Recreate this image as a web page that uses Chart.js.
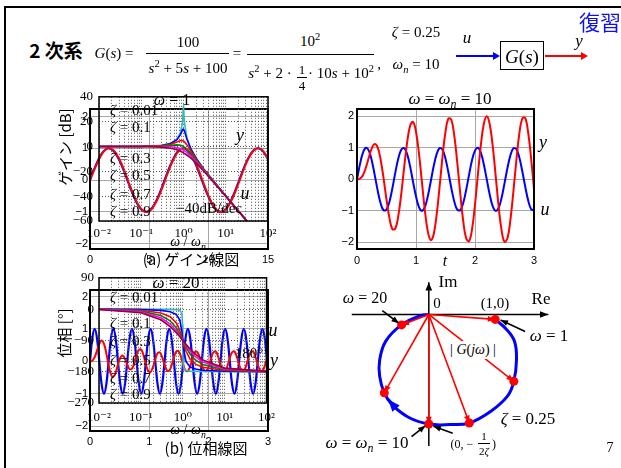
<!DOCTYPE html>
<html>
<head>
<meta charset="utf-8">
<script src="https://cdn.jsdelivr.net/npm/chart.js@4.4.1/dist/chart.umd.min.js"></script>
<style>
  body { margin: 0; background: #fff; }
  #page { position: relative; width: 621px; height: 468px; overflow: hidden; background: #fff; }
  #frame { position: absolute; left: 4px; top: 6px; width: 700px; height: 600px; border-left: 2px solid #000; border-top: 2px solid #000; }
  canvas { position: absolute; }
  .t { position: absolute; transform: translate(-50%, -50%); white-space: nowrap; font-family: 'Liberation Serif', 'DejaVu Serif', serif; font-size: 15px; line-height: 1; color: #000; }
  .l { transform: translate(0, -50%); }
  .j { font-family: 'Noto Sans CJK JP', sans-serif; }
  .rot { transform: translate(-50%, -50%) rotate(-90deg); }
  .bar { position: absolute; height: 1px; background: #000; }
  sup, sub { font-size: 70%; line-height: 0; }
</style>
</head>
<body>
<div id="page">
  <div id="frame"></div>
  <canvas id="tl"></canvas>
  <canvas id="gain"></canvas>
  <canvas id="tr"></canvas>
  <canvas id="tph"></canvas>
  <canvas id="phase"></canvas>
  <canvas id="nyq"></canvas>

  <!-- header -->
  <div class="t j" style="left:56px;top:49px;font-size:19px;font-weight:700">2 次系</div>
  <div class="t" style="left:114px;top:53px"><i>G</i>(<i>s</i>) =</div>
  <div class="t" style="left:188px;top:42px">100</div>
  <div class="bar" style="left:146px;top:53px;width:83px"></div>
  <div class="t" style="left:188px;top:68px"><i>s</i><sup>2</sup> + 5<i>s</i> + 100</div>
  <div class="t" style="left:237px;top:53px">=</div>
  <div class="t" style="left:310px;top:41px">10<sup>2</sup></div>
  <div class="bar" style="left:247px;top:54px;width:127px"></div>
  <div class="t" style="left:270px;top:73px"><i>s</i><sup>2</sup> + 2 ·</div>
  <div class="t" style="left:302px;top:69px;font-size:13px">1</div>
  <div class="bar" style="left:297px;top:77px;width:10px"></div>
  <div class="t" style="left:302px;top:85px;font-size:13px">4</div>
  <div class="t" style="left:341px;top:73px">· 10<i>s</i> + 10<sup>2</sup></div>
  <div class="t" style="left:379px;top:64px">,</div>
  <div class="t" style="left:416px;top:32px"><i>ζ</i> = 0.25</div>
  <div class="t" style="left:416px;top:64px"><i>ω<sub>n</sub></i> = 10</div>
  <div class="t" style="left:467px;top:37px;font-size:17px"><i>u</i></div>
  <div style="position:absolute;left:456px;top:55px;width:38px;height:2px;background:#0000ff"></div>
  <div style="position:absolute;left:493px;top:52px;width:0;height:0;border-left:7px solid #0000ff;border-top:4px solid transparent;border-bottom:4px solid transparent"></div>
  <div style="position:absolute;left:500px;top:41px;width:42px;height:27px;border:1.5px solid #000"></div>
  <div class="t" style="left:522px;top:56px;font-size:19px"><i>G</i>(<i>s</i>)</div>
  <div style="position:absolute;left:545px;top:55px;width:37px;height:2px;background:#ff0000"></div>
  <div style="position:absolute;left:581px;top:52px;width:0;height:0;border-left:7px solid #ff0000;border-top:4px solid transparent;border-bottom:4px solid transparent"></div>
  <div class="t" style="left:579px;top:40px;font-size:17px"><i>y</i></div>
  <div class="t j" style="left:600px;top:21px;font-size:21px;color:#1010ee">復習</div>

  <!-- gain panel -->
  <div class="t j rot" style="left:64px;top:147px">ゲイン [dB]</div>
  <div class="t l" style="left:110px;top:110px"><i>ζ</i> = 0.01</div>
  <div class="t l" style="left:110px;top:127px"><i>ζ</i> = 0.1</div>
  <div class="t l" style="left:110px;top:158px"><i>ζ</i> = 0.3</div>
  <div class="t l" style="left:110px;top:175px"><i>ζ</i> = 0.5</div>
  <div class="t l" style="left:110px;top:194px"><i>ζ</i> = 0.7</div>
  <div class="t l" style="left:110px;top:211px"><i>ζ</i> = 0.9</div>
  <div class="t" style="left:172px;top:100px;font-size:16px"><i>ω</i> = 1</div>
  <div class="t" style="left:240px;top:135px;font-size:18px"><i>y</i></div>
  <div class="t" style="left:245px;top:193px;font-size:18px"><i>u</i></div>
  <div class="t" style="left:209px;top:208px">−40dB/dec</div>
  <div class="t" style="left:188px;top:242px;font-size:14px"><i>ω</i> / <i>ω<sub>n</sub></i></div>
  <div class="t j" style="left:191px;top:258px">(a) ゲイン線図</div>

  <!-- phase panel -->
  <div class="t j rot" style="left:63px;top:333px">位相 [°]</div>
  <div class="t l" style="left:110px;top:297px"><i>ζ</i> = 0.01</div>
  <div class="t l" style="left:110px;top:323px"><i>ζ</i> = 0.1</div>
  <div class="t l" style="left:110px;top:341px"><i>ζ</i> = 0.3</div>
  <div class="t l" style="left:110px;top:360px"><i>ζ</i> = 0.5</div>
  <div class="t l" style="left:110px;top:378px"><i>ζ</i> = 0.7</div>
  <div class="t l" style="left:110px;top:394px"><i>ζ</i> = 0.9</div>
  <div class="t" style="left:176px;top:282px;font-size:17px"><i>ω</i> = 20</div>
  <div class="t" style="left:273px;top:330px;font-size:18px"><i>u</i></div>
  <div class="t" style="left:274px;top:360px;font-size:18px"><i>y</i></div>
  <div class="t" style="left:249px;top:353px">180°</div>
  <div class="t" style="left:188px;top:430px;font-size:14px"><i>ω</i> / <i>ω<sub>n</sub></i></div>
  <div class="t j" style="left:206px;top:447px">(b) 位相線図</div>

  <!-- time response at resonance -->
  <div class="t" style="left:450px;top:98px;font-size:17px"><i>ω</i> = <i>ω<sub>n</sub></i> = 10</div>
  <div class="t" style="left:543px;top:142px;font-size:18px"><i>y</i></div>
  <div class="t" style="left:545px;top:209px;font-size:18px"><i>u</i></div>
  <div class="t" style="left:445px;top:261px;font-size:16px"><i>t</i></div>

  <!-- nyquist -->
  <div class="t" style="left:448px;top:281px;font-size:17px">Im</div>
  <div class="t" style="left:541px;top:298px;font-size:17px">Re</div>
  <div class="t" style="left:437px;top:303px">0</div>
  <div class="t" style="left:495px;top:303px">(1,0)</div>
  <div class="t" style="left:365px;top:298px;font-size:16px"><i>ω</i> = 20</div>
  <div class="t" style="left:549px;top:335px;font-size:17px"><i>ω</i> = 1</div>
  <div class="t" style="left:473px;top:350px;font-size:14px;background:#fff;padding:2px 1px">| <i>G</i>(<i>jω</i>) |</div>
  <div class="t" style="left:528px;top:418px;font-size:17px"><i>ζ</i> = 0.25</div>
  <div class="t" style="left:367px;top:442px;font-size:17px"><i>ω</i> = <i>ω<sub>n</sub></i> = 10</div>
  <div class="t" style="left:462px;top:444px;font-size:12px">(0, −</div>
  <div class="t" style="left:484px;top:436px;font-size:11px">1</div>
  <div class="bar" style="left:478px;top:443px;width:12px"></div>
  <div class="t" style="left:484px;top:451px;font-size:11px">2<i>ζ</i></div>
  <div class="t" style="left:494px;top:444px;font-size:12px">)</div>
  <div class="t" style="left:610px;top:448px;font-size:14px">7</div>
</div>

<script>
// ---- gain / phase vs omega/omega_n ----
const ratio = [0.01, 0.1, 0.3, 0.5, 0.7, 0.85, 0.95, 0.99, 1, 1.01, 1.05, 1.2, 1.5, 2, 3, 10, 100]
const gainZ001 = [0, 0.09, 0.82, 2.50, 5.85, 11.12, 20.06, 31.03, 33.98, 30.90, 19.61, 7.12, -1.94, -9.54, -18.06, -39.91, -80]
const gainZ01 = [0, 0.09, 0.80, 2.42, 5.53, 9.75, 13.41, 14.02, 13.98, 13.85, 12.63, 6.00, -2.18, -9.62, -18.09, -39.91, -80]
const gainZ03 = [0, 0.07, 0.65, 1.85, 3.60, 4.72, 4.76, 4.52, 4.44, 4.35, 3.90, 1.48, -3.75, -10.19, -18.28, -39.93, -80]
const gainZ05 = [0, 0.04, 0.37, 0.90, 1.25, 0.97, 0.40, 0.09, 0, -0.09, -0.46, -2.13, -5.81, -11.14, -18.63, -39.96, -80]
const gainZ07 = [0, 0, -0.02, -0.22, -0.87, -1.74, -2.50, -2.84, -2.92, -3.01, -3.37, -4.79, -7.76, -12.26, -19.12, -40.00, -80]
const gainZ09 = [0, -0.05, -0.49, -1.37, -2.67, -3.83, -4.67, -5.02, -5.11, -5.19, -5.54, -6.87, -9.47, -13.42, -19.69, -40.05, -80]

const phaseZ001 = [0, -0.1, -0.4, -0.8, -1.6, -3.5, -11.0, -44.9, -90, -134.9, -168.4, -176.9, -178.6, -179.2, -179.6, -179.9, -180]
const phaseZ01 = [-0.1, -1.2, -3.8, -7.6, -15.3, -31.5, -62.8, -84.3, -90, -95.7, -116.0, -151.4, -166.5, -172.4, -175.7, -178.8, -179.9]
const phaseZ03 = [-0.3, -3.5, -11.2, -21.8, -39.5, -61.4, -80.3, -88.1, -90, -91.9, -99.2, -121.4, -144.2, -158.2, -167.3, -176.5, -179.7]
const phaseZ05 = [-0.6, -5.8, -18.3, -33.7, -53.9, -71.9, -84.1, -88.9, -90, -91.1, -95.6, -110.1, -129.8, -146.3, -159.4, -174.2, -179.4]
const phaseZ07 = [-0.8, -8.0, -24.8, -43.0, -62.5, -76.9, -85.8, -89.2, -90, -90.8, -94.0, -104.7, -120.8, -137.0, -152.3, -172.0, -179.2]
const phaseZ09 = [-1.0, -10.3, -30.7, -50.2, -68.0, -79.7, -86.7, -89.4, -90, -90.6, -93.1, -101.5, -114.8, -129.8, -146.0, -169.7, -179.0]

const decades = [0.01, 0.1, 1, 10]
const gainTicks = [-60, -40, -20, 0, 20, 40]
const phaseTicks = [-270, -180, -90, 0, 90]
const unitTicks = [-2, -1, 0, 1, 2]

// ---- time responses ----
// omega = 1 (behind the gain plot)
const tSlow = [0, 0.5, 1, 1.5, 2, 2.5, 3, 3.5, 4, 4.5, 5, 5.5, 6, 6.5, 7, 7.5, 8, 8.5, 9, 9.5, 10, 10.5, 11, 11.5, 12, 12.5, 13, 13.5, 14, 14.5, 15]
const uSlow = [0, 0.48, 0.84, 1.00, 0.91, 0.60, 0.14, -0.35, -0.76, -0.98, -0.96, -0.71, -0.28, 0.22, 0.66, 0.94, 0.99, 0.80, 0.41, -0.08, -0.54, -0.88, -1.00, -0.88, -0.54, -0.07, 0.42, 0.80, 0.99, 0.94, 0.65]
const ySlow = [0, 0.44, 0.82, 1.00, 0.93, 0.64, 0.19, -0.31, -0.73, -0.97, -0.98, -0.74, -0.33, 0.17, 0.62, 0.93, 1.00, 0.83, 0.46, -0.03, -0.51, -0.86, -1.01, -0.90, -0.58, -0.12, 0.38, 0.78, 0.99, 0.95, 0.68]
const slowTicks = [0, 5, 10, 15]

// omega = omega_n = 10
const tMid = [0, 0.05, 0.1, 0.15, 0.2, 0.25, 0.3, 0.35, 0.4, 0.45, 0.5, 0.55, 0.6, 0.65, 0.7, 0.75, 0.8, 0.85, 0.9, 0.95,
  1, 1.05, 1.1, 1.15, 1.2, 1.25, 1.3, 1.35, 1.4, 1.45, 1.5, 1.55, 1.6, 1.65, 1.7, 1.75, 1.8, 1.85, 1.9, 1.95,
  2, 2.05, 2.1, 2.15, 2.2, 2.25, 2.3, 2.35, 2.4, 2.45, 2.5, 2.55, 2.6, 2.65, 2.7, 2.75, 2.8, 2.85, 2.9, 2.95, 3]
const uMid = [0, 0.48, 0.84, 1.00, 0.91, 0.60, 0.14, -0.35, -0.76, -0.98, -0.96, -0.71, -0.28, 0.22, 0.66, 0.94, 0.99, 0.80, 0.41, -0.08,
  -0.54, -0.88, -1.00, -0.88, -0.54, -0.07, 0.42, 0.80, 0.99, 0.94, 0.65, 0.21, -0.29, -0.71, -0.96, -0.98, -0.75, -0.34, 0.15, 0.61,
  0.91, 1.00, 0.84, 0.47, -0.01, -0.49, -0.85, -1.00, -0.91, -0.59, -0.13, 0.36, 0.76, 0.98, 0.96, 0.70, 0.27, -0.22, -0.66, -0.94, -0.99]
const yMid = [0, 0.02, 0.13, 0.37, 0.69, 0.98, 1.12, 1.01, 0.63, 0.04, -0.64, -1.23, -1.58, -1.56, -1.16, -0.46, 0.39, 1.17, 1.70, 1.82,
  1.51, 0.82, -0.08, -0.98, -1.65, -1.93, -1.74, -1.12, -0.23, 0.73, 1.51, 1.93, 1.88, 1.37, 0.52, -0.45, -1.32, -1.87, -1.96, -1.58,
  -0.80, 0.17, 1.10, 1.76, 2.00, 1.74, 1.06, 0.12, -0.85, -1.61, -1.98, -1.87, -1.29, -0.40, 0.58, 1.43, 1.92, 1.95, 1.50, 0.68, -0.31]
const secTicks = [0, 1, 2, 3]

// omega = 20 (behind the phase plot)
const tFast = [0, 0.039, 0.079, 0.118, 0.157, 0.196, 0.236, 0.275, 0.314, 0.353, 0.393, 0.432, 0.471, 0.511, 0.550, 0.589,
  0.628, 0.668, 0.707, 0.746, 0.785, 0.825, 0.864, 0.903, 0.942, 0.982, 1.021, 1.060, 1.100, 1.139, 1.178, 1.217,
  1.257, 1.296, 1.335, 1.374, 1.414, 1.453, 1.492, 1.532, 1.571, 1.610, 1.649, 1.689, 1.728, 1.767, 1.806, 1.846,
  1.885, 1.924, 1.963, 2.003, 2.042, 2.081, 2.121, 2.160, 2.199, 2.238, 2.278, 2.317, 2.356, 2.395, 2.435, 2.474,
  2.513, 2.553, 2.592, 2.631, 2.670, 2.710, 2.749, 2.788, 2.827, 2.867, 2.906, 2.945, 2.985, 3.000]
const uFast = [0, 0.71, 1, 0.71, 0, -0.71, -1, -0.71, 0, 0.71, 1, 0.71, 0, -0.71, -1, -0.71,
  0, 0.71, 1, 0.71, 0, -0.71, -1, -0.71, 0, 0.71, 1, 0.71, 0, -0.71, -1, -0.71,
  0, 0.71, 1, 0.71, 0, -0.71, -1, -0.71, 0, 0.71, 1, 0.71, 0, -0.71, -1, -0.71,
  0, 0.71, 1, 0.71, 0, -0.71, -1, -0.71, 0, 0.71, 1, 0.71, 0, -0.71, -1, -0.71,
  0, 0.71, 1, 0.71, 0, -0.71, -1, -0.71, 0, 0.71, 1, 0.71, 0, -0.31]
const yFast = [0, 0.02, 0.13, 0.33, 0.54, 0.64, 0.54, 0.25, -0.12, -0.40, -0.48, -0.35, -0.10, 0.11, 0.18, 0.08,
  -0.11, -0.24, -0.23, -0.05, 0.19, 0.36, 0.36, 0.18, -0.09, -0.30, -0.33, -0.18, 0.06, 0.25, 0.27, 0.12,
  -0.11, -0.28, -0.29, -0.13, 0.12, 0.30, 0.31, 0.15, -0.10, -0.28, -0.30, -0.15, 0.09, 0.28, 0.29, 0.14,
  -0.10, -0.28, -0.30, -0.14, 0.10, 0.28, 0.30, 0.14, -0.10, -0.28, -0.30, -0.14, 0.10, 0.28, 0.30, 0.14,
  -0.10, -0.28, -0.30, -0.14, 0.10, 0.28, 0.30, 0.14, -0.10, -0.28, -0.30, -0.14, 0.10, 0.19]

// ---- vector locus, zeta = 0.25 ----
const nyqRe = [1.0, 1.16, 1.29, 1.32, 1.28, 1.19, 0.94, 0.61, 0.32, 0, -0.30, -0.55, -0.67, -0.74, -0.74, -0.65, -0.41, -0.12, 0]
const nyqIm = [-0.09, -0.26, -0.49, -0.83, -1.22, -1.48, -1.76, -1.98, -2.01, -2.0, -1.88, -1.65, -1.43, -1.13, -0.83, -0.49, -0.19, -0.02, 0]
const markRe = [1.0, 1.28, 0.61, 0, -0.67, -0.41]
const markIm = [-0.09, -1.22, -1.98, -2.0, -1.43, -0.19]
const ptrFromRe = [-0.70, 1.45, -0.26, 0.36]
const ptrFromIm = [0.07, -0.31, -2.23, -2.17]
const ptrToRe = [-0.45, 1.08, -0.05, 0.07]
const ptrToIm = [-0.16, -0.10, -2.03, -2.04]
const reAxis = [-1.16, 1.80]
const imAxis = [-2.40, 0.59]

const zetaColors = ['#990033', '#ff00ff', '#008000', '#ff0000', '#0000ff', '#33bbbb']
const sansTick = { family: "'Liberation Sans', Arial, sans-serif", size: 11 }
const serifTick = { family: "'Liberation Serif', 'DejaVu Serif', serif", size: 13 }

const framePlugin = {
  id: 'frame',
  afterDraw(chart, args, opts) {
    if (!opts.width) return
    const a = chart.chartArea, ctx = chart.ctx
    ctx.save()
    ctx.strokeStyle = '#000'
    ctx.lineWidth = opts.width
    ctx.strokeRect(a.left, a.top, a.right - a.left, a.bottom - a.top)
    ctx.restore()
  }
}

const arrowPlugin = {
  id: 'arrows',
  afterDatasetsDraw(chart) {
    const ctx = chart.ctx
    chart.data.datasets.forEach((ds, i) => {
      if (!ds.arrowHead) return
      const pts = chart.getDatasetMeta(i).data
      const a = pts[pts.length - 2], b = pts[pts.length - 1]
      const ang = Math.atan2(b.y - a.y, b.x - a.x)
      const len = ds.arrowHead
      ctx.save()
      ctx.fillStyle = ds.borderColor
      ctx.beginPath()
      ctx.moveTo(b.x, b.y)
      ctx.lineTo(b.x - len * Math.cos(ang - 0.38), b.y - len * Math.sin(ang - 0.38))
      ctx.lineTo(b.x - len * Math.cos(ang + 0.38), b.y - len * Math.sin(ang + 0.38))
      ctx.closePath()
      ctx.fill()
      ctx.restore()
    })
  }
}

const pairs = (xs, ys) => xs.map((x, i) => ({ x: x, y: ys[i] }))
const fitY = w => scale => { scale.width = w }
const fitX = h => scale => { scale.height = h }
const setTicks = vals => scale => { scale.ticks = vals.map(v => ({ value: v })) }
const minus = v => String(v).replace('-', '−')

function place(id, box, gut) {
  const cv = document.getElementById(id)
  cv.width = box.r - box.l + gut.l + gut.r
  cv.height = box.b - box.t + gut.t + gut.b
  cv.style.left = (box.l - gut.l) + 'px'
  cv.style.top = (box.t - gut.t) + 'px'
  return cv
}

function baseOptions(gut, frameWidth) {
  return {
    responsive: false,
    animation: false,
    events: [],
    devicePixelRatio: 1,
    layout: { padding: { left: 0, top: gut.t, right: gut.r, bottom: 0 } },
    plugins: { legend: { display: false }, tooltip: { enabled: false }, frame: { width: frameWidth } },
    elements: { point: { radius: 0 } }
  }
}

function timeChart(id, box, gut, xr, yr, xt, sets, pad) {
  const cv = place(id, box, gut)
  const opts = baseOptions(gut, 2)
  opts.scales = {
    x: {
      type: 'linear', min: xr[0], max: xr[1],
      afterBuildTicks: setTicks(xt), afterFit: fitX(gut.b),
      grid: { color: '#a8a8a8', drawTicks: false }, border: { display: false },
      ticks: { padding: pad.x, font: sansTick, color: '#000', autoSkip: false, maxRotation: 0, callback: minus }
    },
    y: {
      min: yr[0], max: yr[1],
      afterBuildTicks: setTicks(unitTicks), afterFit: fitY(gut.l),
      grid: { color: '#a8a8a8', drawTicks: false }, border: { display: false },
      ticks: { padding: pad.y, font: sansTick, color: '#000', callback: minus }
    }
  }
  return new Chart(cv, { type: 'line', data: { datasets: sets }, options: opts, plugins: [framePlugin] })
}

const logTicks = []
decades.forEach(d => { for (let m = 1; m < 10; m++) logTicks.push(d * m) })
logTicks.push(100)
const supNum = { '-2': '⁻²', '-1': '⁻¹', '0': '⁰', '1': '¹', '2': '²' }

function bodeChart(id, box, gut, yr, yt, sets, pad) {
  const cv = place(id, box, gut)
  const opts = baseOptions(gut, 1.5)
  opts.scales = {
    x: {
      type: 'logarithmic', min: 0.01, max: 100,
      afterBuildTicks: setTicks(logTicks), afterFit: fitX(gut.b),
      grid: { color: '#555', drawTicks: false }, border: { display: false, dash: [1, 2] },
      ticks: {
        padding: pad.x, font: serifTick, color: '#000', autoSkip: false, maxRotation: 0,
        callback: v => {
          const e = Math.log10(v)
          return Math.abs(e - Math.round(e)) < 1e-6 ? '10' + supNum[String(Math.round(e))] : ''
        }
      }
    },
    y: {
      min: yr[0], max: yr[1],
      afterBuildTicks: setTicks(yt), afterFit: fitY(gut.l),
      grid: { color: '#555', drawTicks: false }, border: { display: false, dash: [1, 2] },
      ticks: { padding: pad.y, font: serifTick, color: '#000', callback: minus }
    }
  }
  return new Chart(cv, { type: 'line', data: { datasets: sets }, options: opts, plugins: [framePlugin] })
}

// gain panel: omega = 1 response behind, gain curves in front
timeChart('tl', { l: 90, t: 109, r: 268, b: 249 }, { l: 40, t: 12, r: 12, b: 24 }, [0, 15], [-2.17, 2.24], slowTicks, [
  { data: pairs(tSlow, ySlow), borderColor: '#ff0000', borderWidth: 2, tension: 0.4 },
  { data: pairs(tSlow, uSlow), borderColor: '#0000ff', borderWidth: 2, tension: 0.4 }
], { x: 4, y: 2 })

bodeChart('gain', { l: 99, t: 93, r: 268, b: 221 }, { l: 45, t: 10, r: 14, b: 28 }, [-60, 40], gainTicks,
  [gainZ09, gainZ07, gainZ05, gainZ03, gainZ01, gainZ001].map((g, i) => ({
    data: pairs(ratio, g), borderColor: zetaColors[i], borderWidth: 1.6, tension: 0
  })), { x: 5, y: 6 })

timeChart('tr', { l: 357, t: 109, r: 534, b: 249 }, { l: 30, t: 10, r: 10, b: 22 }, [0, 3], [-2.21, 2.23], secTicks, [
  { data: pairs(tMid, yMid), borderColor: '#ff0000', borderWidth: 2, tension: 0.4 },
  { data: pairs(tMid, uMid), borderColor: '#0000ff', borderWidth: 2, tension: 0.4 }
], { x: 5, y: 3 })

// phase panel: omega = 20 response behind, phase curves in front
timeChart('tph', { l: 90, t: 290, r: 268, b: 431 }, { l: 40, t: 10, r: 12, b: 22 }, [0, 3], [-2.15, 2.2], secTicks, [
  { data: pairs(tFast, yFast), borderColor: '#ff0000', borderWidth: 2, tension: 0.4 },
  { data: pairs(tFast, uFast), borderColor: '#0000ff', borderWidth: 2.2, tension: 0.4 }
], { x: 4, y: 2 })

bodeChart('phase', { l: 99, t: 275, r: 268, b: 403 }, { l: 45, t: 10, r: 14, b: 28 }, [-270, 90], phaseTicks,
  [phaseZ09, phaseZ07, phaseZ05, phaseZ03, phaseZ01, phaseZ001].map((p, i) => ({
    data: pairs(ratio, p), borderColor: zetaColors[i], borderWidth: 1.6, tension: 0
  })), { x: 7, y: 5 })

// vector locus
const nyqCv = place('nyq', { l: 330, t: 270, r: 570, b: 460 }, { l: 0, t: 0, r: 0, b: 0 })
const nyqSets = []
nyqSets.push({ data: pairs(markRe, markIm), showLine: false, pointRadius: 4.5, pointBackgroundColor: '#ff0000', pointBorderWidth: 0, borderColor: '#ff0000' })
markRe.forEach((re, i) => {
  nyqSets.push({ data: [{ x: 0, y: 0 }, { x: re, y: markIm[i] }], borderColor: '#ff0000', borderWidth: 1.6, arrowHead: 8 })
})
nyqSets.push({ data: [{ x: -0.50, y: -1.71 }, { x: -0.61, y: -1.55 }], borderColor: '#0000ff', borderWidth: 3, arrowHead: 13 })
nyqSets.push({ data: pairs(nyqRe, nyqIm), borderColor: '#0000ff', borderWidth: 3, tension: 0.4 })
ptrFromRe.forEach((re, i) => {
  nyqSets.push({ data: [{ x: re, y: ptrFromIm[i] }, { x: ptrToRe[i], y: ptrToIm[i] }], borderColor: '#000', borderWidth: 1.6, arrowHead: 8 })
})
nyqSets.push({ data: [{ x: reAxis[0], y: 0 }, { x: reAxis[1], y: 0 }], borderColor: '#000', borderWidth: 1.5, arrowHead: 9 })
nyqSets.push({ data: [{ x: 0, y: imAxis[0] }, { x: 0, y: imAxis[1] }], borderColor: '#000', borderWidth: 1.5, arrowHead: 9 })

const nyqOpts = baseOptions({ l: 0, t: 0, r: 0, b: 0 }, 0)
nyqOpts.scales = {
  x: { type: 'linear', display: false, min: -1.42, max: 2.058 },
  y: { type: 'linear', display: false, min: -2.574, max: 0.730 }
}
new Chart(nyqCv, { type: 'line', data: { datasets: nyqSets }, options: nyqOpts, plugins: [arrowPlugin] })
</script>
</body>
</html>
